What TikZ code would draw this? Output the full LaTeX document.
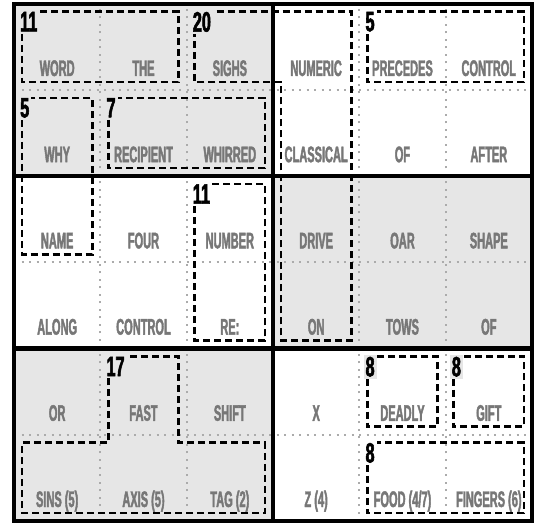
\documentclass[tikz,border=0pt]{standalone}
\usepackage{fontspec}
\newfontfamily\wordfont[FakeStretch=0.49,FakeBold=1.8]{Liberation Sans}
\newfontfamily\sumfont[FakeStretch=0.58,FakeBold=2]{Liberation Sans}
\definecolor{blockgray}{HTML}{E6E6E6}
\definecolor{wordgray}{HTML}{777777}
\definecolor{dotgray}{HTML}{ABABAB}

\begin{document}
\begin{tikzpicture}[x=86.33pt,y=86.2pt,
  word/.style={anchor=base,text=wordgray,inner sep=0pt,
    font=\wordfont\bfseries\fontsize{22.5}{22.5}\selectfont},
  sum/.style={anchor=north west,inner sep=2pt,
    font=\sumfont\bfseries\fontsize{28}{28}\selectfont},
  cage/.style={line width=2.6pt,dash pattern=on 7pt off 4pt},
  gridline/.style={dotgray,line width=2pt,dash pattern=on 2pt off 5.5pt},
  blockline/.style={line width=4.5pt}]
  \useasboundingbox (-14pt,-3pt) rectangle (526pt,521pt);
  \fill[blockgray] (0,4) rectangle (3,6);
  \fill[blockgray] (3,2) rectangle (6,4);
  \fill[blockgray] (0,0) rectangle (3,2);
  \foreach \x in {1,2,4,5} \draw[gridline] (\x,0) -- (\x,6);
  \foreach \y in {1,3,5} \draw[gridline] (0,\y) -- (6,\y);
  \foreach \t [count=\c] in {WORD,THE,SIGHS,NUMERIC,PRECEDES,CONTROL}
    \node[word] (w1\c) at ([yshift=14pt]\c-0.5,5) {\t};
  \foreach \t [count=\c] in {WHY,RECIPIENT,WHIRRED,CLASSICAL,OF,AFTER}
    \node[word] (w2\c) at ([yshift=14pt]\c-0.5,4) {\t};
  \foreach \t [count=\c] in {NAME,FOUR,NUMBER,DRIVE,OAR,SHAPE}
    \node[word] (w3\c) at ([yshift=14pt]\c-0.5,3) {\t};
  \foreach \t [count=\c] in {ALONG,CONTROL,RE:,ON,TOWS,OF}
    \node[word] (w4\c) at ([yshift=14pt]\c-0.5,2) {\t};
  \foreach \t [count=\c] in {OR,FAST,SHIFT,X,DEADLY,GIFT}
    \node[word] (w5\c) at ([yshift=14pt]\c-0.5,1) {\t};
  \foreach \t [count=\c] in {{SINS (5)},{AXIS (5)},{TAG (2)},{Z (4)},{FOOD (4/7)},{FINGERS (6)}}
    \node[word] (w6\c) at ([yshift=14pt]\c-0.5,0) {\t};
  \draw[cage] ([xshift=8pt,yshift=-8pt]0,6) rectangle ([xshift=-8pt,yshift=8pt]2,5);
  \draw[cage] ([xshift=8pt,yshift=-8pt]2,6) -- ([xshift=-8pt,yshift=-8pt]4,6)
    -- ([xshift=-8pt,yshift=8pt]4,2) -- ([xshift=8pt,yshift=8pt]3,2)
    -- ([xshift=8pt,yshift=8pt]3,5) -- ([xshift=8pt,yshift=8pt]2,5) -- cycle;
  \draw[cage] ([xshift=8pt,yshift=-8pt]4,6) rectangle ([xshift=-8pt,yshift=8pt]6,5);
  \draw[cage] ([xshift=8pt,yshift=-8pt]0,5) rectangle ([xshift=-8pt,yshift=8pt]1,3);
  \draw[cage] ([xshift=8pt,yshift=-8pt]1,5) rectangle ([xshift=-8pt,yshift=8pt]3,4);
  \draw[cage] ([xshift=8pt,yshift=-8pt]2,4) rectangle ([xshift=-8pt,yshift=8pt]3,2);
  \draw[cage] ([xshift=8pt,yshift=-8pt]4,2) rectangle ([xshift=-8pt,yshift=8pt]5,1);
  \draw[cage] ([xshift=8pt,yshift=-8pt]5,2) rectangle ([xshift=-8pt,yshift=8pt]6,1);
  \draw[cage] ([xshift=8pt,yshift=-8pt]1,2) -- ([xshift=-8pt,yshift=-8pt]2,2)
    -- ([xshift=-8pt,yshift=-8pt]2,1) -- ([xshift=-8pt,yshift=-8pt]3,1)
    -- ([xshift=-8pt,yshift=8pt]3,0) -- ([xshift=8pt,yshift=8pt]0,0)
    -- ([xshift=8pt,yshift=-8pt]0,1) -- ([xshift=8pt,yshift=-8pt]1,1) -- cycle;
  \draw[cage] ([xshift=8pt,yshift=-8pt]4,1) rectangle ([xshift=-8pt,yshift=8pt]6,0);
  \node[sum,fill=blockgray] (s1) at ([xshift=4pt,yshift=-6pt]0,6) {11};
  \node[sum,fill=blockgray] (s2) at ([xshift=4pt,yshift=-6pt]2,6) {20};
  \node[sum,fill=white] (s3) at ([xshift=4pt,yshift=-6pt]4,6) {5};
  \node[sum,fill=blockgray] (s4) at ([xshift=4pt,yshift=-6pt]0,5) {5};
  \node[sum,fill=blockgray] (s5) at ([xshift=4pt,yshift=-6pt]1,5) {7};
  \node[sum,fill=white] (s6) at ([xshift=4pt,yshift=-6pt]2,4) {11};
  \node[sum,fill=blockgray] (s7) at ([xshift=4pt,yshift=-6pt]4,2) {8};
  \node[sum,fill=blockgray] (s8) at ([xshift=4pt,yshift=-6pt]5,2) {8};
  \node[sum,fill=blockgray] (s9) at ([xshift=4pt,yshift=-6pt]1,2) {17};
  \node[sum,fill=white] (s10) at ([xshift=4pt,yshift=-6pt]4,1) {8};
  \draw[blockline] (0,0) rectangle (6,6);
  \draw[blockline] (3,0) -- (3,6);
  \draw[blockline] (0,2) -- (6,2) (0,4) -- (6,4);
\end{tikzpicture}
\end{document}
